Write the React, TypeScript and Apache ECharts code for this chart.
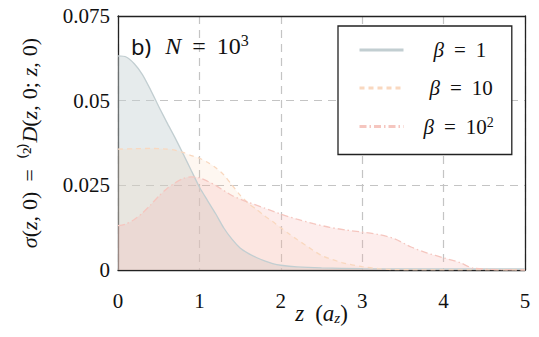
import React, { useEffect, useRef } from "react";
import * as echarts from "echarts";

const zB1 = [0, 0.1, 0.2, 0.3, 0.4, 0.5, 0.6, 0.7, 0.8, 0.9, 1.0, 1.1, 1.2, 1.3, 1.4, 1.5, 1.6, 1.7, 1.8, 1.9, 2.0, 2.2, 2.5, 3, 4, 5];
const vB1 = [0.0632, 0.0629, 0.0609, 0.0577, 0.0532, 0.0483, 0.0436, 0.0391, 0.0343, 0.0294, 0.0245, 0.0205, 0.0166, 0.0124, 0.0091, 0.0065, 0.0049, 0.0037, 0.0027, 0.0019, 0.0014, 0.0009, 0.0006, 0.0004, 0.0003, 0.0003];

const zB10 = [0, 0.2, 0.4, 0.6, 0.7, 0.8, 0.9, 1.0, 1.1, 1.2, 1.3, 1.4, 1.5, 1.6, 1.7, 1.8, 1.9, 2.0, 2.1, 2.2, 2.3, 2.5, 2.75, 3.0, 3.2, 3.4, 5];
const vB10 = [0.0357, 0.0358, 0.0359, 0.0357, 0.0354, 0.0347, 0.0338, 0.033, 0.0318, 0.0302, 0.0281, 0.0251, 0.0221, 0.0197, 0.0179, 0.016, 0.0143, 0.0125, 0.0107, 0.009, 0.0074, 0.0043, 0.0022, 0.001, 0.0004, 0.0001, 0];

const zB100 = [0, 0.1, 0.2, 0.3, 0.4, 0.5, 0.6, 0.7, 0.8, 0.9, 1.0, 1.1, 1.2, 1.4, 1.6, 1.8, 2.0, 2.2, 2.4, 2.6, 2.8, 3.0, 3.2, 3.4, 3.6, 3.8, 4.0, 4.2, 4.37, 5];
const vB100 = [0.0131, 0.0136, 0.0149, 0.0168, 0.0192, 0.0218, 0.024, 0.0257, 0.027, 0.0275, 0.0272, 0.0262, 0.025, 0.022, 0.02, 0.0183, 0.0165, 0.015, 0.0137, 0.0126, 0.0118, 0.0112, 0.0105, 0.0092, 0.0068, 0.005, 0.0036, 0.0022, 0.0005, 0];

const seriesNames = ["β = 1", "β = 10", "β = 10²"];
const xTicks = [0, 1, 2, 3, 4, 5];
const yTicks = [0, 0.025, 0.05, 0.075];

const SERIF = "Liberation Serif";

export default function App() {
  const ref = useRef<HTMLDivElement>(null);
  useEffect(() => {
    if (!ref.current) return;
    document.body.style.margin = "0";
    const chart = echarts.init(ref.current, null, { renderer: "svg" });
    const pairs = (zs: number[], vs: number[]) => zs.map((z, i) => [z, vs[i]]);
    const mk = (fs: number, sp = 9, sp2 = 5) => ({
      i: { fontFamily: SERIF, fontStyle: "italic", fontWeight: "normal", fontSize: fs, color: "#111" },
      r: { fontFamily: SERIF, fontWeight: "normal", fontSize: fs, color: "#111" },
      n: { fontFamily: SERIF, fontWeight: "normal", fontSize: fs, color: "#111" },
      s: { fontFamily: "Noto Sans", fontWeight: "normal", fontSize: Math.round(fs * 0.9), color: "#111" },
      sup: { fontFamily: SERIF, fontWeight: "normal", fontSize: Math.round(fs * 0.65), color: "#111", padding: [0, 0, Math.round(fs * 0.45), 0] },
      sub: { fontFamily: SERIF, fontStyle: "italic", fontWeight: "normal", fontSize: Math.round(fs * 0.65), color: "#111", padding: [Math.round(fs * 0.35), 0, 0, 0] },
      sp: { width: sp, fontSize: fs },
      sp2: { width: sp2, fontSize: fs },
      sp3: { width: 14, fontSize: fs },
      p1: { width: 25, fontSize: fs },
      p2: { width: 21, fontSize: fs },
      p3: { width: 15, fontSize: fs },
    });
    const frameAxis = {
      axisLine: { show: true, onZero: false, lineStyle: { color: "#222", width: 1.3 } },
      axisTick: { show: false },
      axisLabel: { show: false },
      splitLine: { show: false },
    };
    chart.setOption({
      animation: false,
      backgroundColor: "#fff",
      title: {
        text: "{s|b)}{sp3| }{i|N}{sp| }{r|=}{sp| }{r|10}{sup|3}",
        left: 126,
        top: 27,
        textStyle: { rich: mk(24, 11) },
      },
      grid: {
        left: 118,
        right: 14,
        top: 16,
        bottom: 67,
        containLabel: false,
        outerBoundsMode: "none",
      },
      legend: {
        orient: "vertical",
        left: 338,
        top: 26,
        padding: [13, 18, 17, 20],
        itemWidth: 44,
        itemHeight: 14,
        itemGap: 16,
        borderColor: "#222",
        borderWidth: 1.3,
        backgroundColor: "#fff",
        itemStyle: { color: "transparent", borderWidth: 0, opacity: 0 },
        data: [
          { name: seriesNames[0], lineStyle: { width: 3 } },
          { name: seriesNames[1], lineStyle: { width: 3 } },
          { name: seriesNames[2], lineStyle: { width: 3 } },
        ],
        formatter: (name: string) => {
          if (name === seriesNames[0]) return "{p1| }{i|β}{sp| }{r|=}{sp| }{r|1}";
          if (name === seriesNames[1]) return "{p2| }{i|β}{sp| }{r|=}{sp| }{r|10}";
          return "{p3| }{i|β}{sp| }{r|=}{sp| }{r|10}{sup|2}";
        },
        textStyle: { rich: mk(21, 10), lineHeight: 22 },
      },
      xAxis: [
        {
          type: "value",
          min: 0,
          max: 5,
          interval: 1,
          name: "{i|z}{sp| }{r|(}{i|a}{sub|z}{r|)}",
          nameLocation: "middle",
          nameGap: 32,
          nameMoveOverlap: false,
          nameTextStyle: { rich: mk(23, 11) },
          axisLine: { show: true, onZero: false, lineStyle: { color: "#222", width: 1.3 } },
          axisTick: { show: false },
          axisLabel: {
            margin: 20,
            rich: mk(21),
            formatter: (v: number) => (xTicks.includes(v) ? "{n|" + String(v) + "}" : ""),
          },
          splitLine: { show: true, lineStyle: { color: "#c4c4c4", type: [8, 6], width: 1.2 } },
        },
        { type: "value", min: 0, max: 5, position: "top", ...frameAxis },
      ],
      yAxis: [
        {
          type: "value",
          min: 0,
          max: 0.075,
          interval: 0.025,
          name: "{i|σ}{r|(}{i|z}{r|,}{sp2| }{r|0)}{sp| }{r|=}{sp| }{r|⁽²⁾}{i|D}{r|(}{i|z}{r|,}{sp2| }{r|0;}{sp2| }{i|z}{r|,}{sp2| }{r|0)}",
          nameLocation: "middle",
          nameGap: 78,
          nameRotate: 90,
          nameMoveOverlap: false,
          nameTextStyle: { rich: mk(22, 10, 6) },
          axisLine: { show: true, onZero: false, lineStyle: { color: "#222", width: 1.3 } },
          axisTick: { show: false },
          axisLabel: {
            margin: 8,
            rich: mk(21),
            formatter: (v: number) => {
              const t = yTicks.find((y) => Math.abs(y - v) < 1e-9);
              return t === undefined ? "" : "{n|" + String(t) + "}";
            },
          },
          splitLine: { show: true, lineStyle: { color: "#c4c4c4", type: [8, 6], width: 1.2 } },
        },
        { type: "value", min: 0, max: 0.075, position: "right", ...frameAxis },
      ],
      series: [
        {
          name: seriesNames[0],
          type: "line",
          data: pairs(zB1, vB1),
          symbol: "none",
          smooth: 0.25,
          lineStyle: { color: "#c2ced1", width: 1.3 },
          itemStyle: { color: "#c2ced1" },
          areaStyle: { color: "rgb(200,210,213)", opacity: 0.45 },
        },
        {
          name: seriesNames[1],
          type: "line",
          data: pairs(zB10, vB10),
          symbol: "none",
          smooth: 0.25,
          lineStyle: { color: "#f9d8bf", width: 1.3, type: [5, 4] },
          itemStyle: { color: "#f9d8bf" },
          areaStyle: { color: "rgb(250,200,160)", opacity: 0.15 },
        },
        {
          name: seriesNames[2],
          type: "line",
          data: pairs(zB100, vB100),
          symbol: "none",
          smooth: 0.25,
          lineStyle: { color: "#f5c6bf", width: 1.3, type: [7, 3, 1.5, 3] },
          itemStyle: { color: "#f5c6bf" },
          areaStyle: { color: "rgb(245,175,170)", opacity: 0.22 },
        },
      ],
    });
    return () => chart.dispose();
  }, []);
  return <div ref={ref} style={{ width: 539, height: 337 }} />;
}
